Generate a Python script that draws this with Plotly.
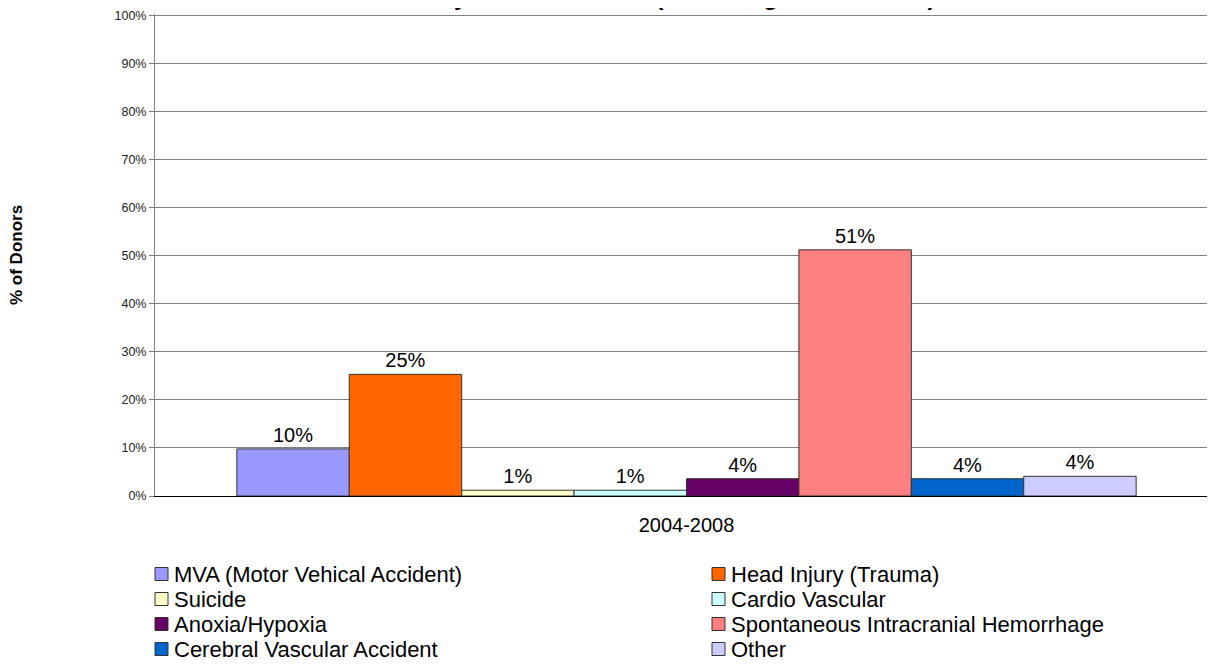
import plotly.graph_objects as go

# cause of death, share of donors 2004-2008
CATEGORY = ['2004-2008']
CAUSES = [
    'MVA (Motor Vehical Accident)',
    'Head Injury (Trauma)',
    'Suicide',
    'Cardio Vascular',
    'Anoxia/Hypoxia',
    'Spontaneous Intracranial Hemorrhage',
    'Cerebral Vascular Accident',
    'Other',
]
SHARES = [9.8, 25.3, 1.2, 1.2, 3.6, 51.2, 3.6, 4.1]
COLORS = ['#9999FF', '#FF6600', '#FFFFCC', '#CCFFFF',
          '#660066', '#FF8080', '#0066CC', '#CCCCFF']
Y_TICKS = list(range(0, 101, 10))

FONT = 'Arial, Liberation Sans, sans-serif'
W, H = 1215, 667
OFF = 8  # page body margin shifts the figure
L, R, T, B = 155 - OFF, 5, 14 - OFF, 179
PW, PH = W - L - R, H - T - B


def px_x(x):  # page x -> paper x
    return (x - OFF - L) / PW


def px_y(y):  # page y -> paper y
    return 1 - (y - OFF - T) / PH


fig = go.Figure()
for name, val, col in zip(CAUSES, SHARES, COLORS):
    fig.add_trace(go.Bar(
        x=CATEGORY, y=[val], name=name, showlegend=False,
        marker=dict(color=col, line=dict(color='#333333', width=1)),
        text=[f'{round(val)}%'], textposition='outside',
        textfont=dict(family=FONT, size=20, color='black'),
        cliponaxis=False,
    ))

fig.update_layout(
    width=W, height=H,
    margin=dict(l=L, r=R, t=T, b=B, autoexpand=False),
    barmode='group', bargap=0.154, bargroupgap=0,
    paper_bgcolor='white', plot_bgcolor='white',
    font=dict(family=FONT, size=12, color='black'),
)

fig.update_yaxes(range=[0, 100.25], tickvals=Y_TICKS,
                 ticktext=[f'{v}%' for v in Y_TICKS],
                 tickfont=dict(family=FONT, size=12.5, color='#222222'),
                 ticklabeloverflow='allow',
                 showgrid=True, gridcolor='#808080', gridwidth=1,
                 showline=True, linecolor='#808080', linewidth=1,
                 ticks='outside', ticklen=5, tickcolor='#808080',
                 zeroline=False, fixedrange=True)
fig.update_xaxes(showline=True, linecolor='black', linewidth=1,
                 tickfont=dict(family=FONT, size=20, color='black'),
                 ticks='', ticklabelstandoff=11, fixedrange=True)

# legend in two columns, Excel style (tighter rows than plotly's legend)
LEG_X = [155, 712]
LEG_Y0, LEG_DY, SQ = 574, 25, 13
for i, (name, col) in enumerate(zip(CAUSES, COLORS)):
    x0 = LEG_X[i % 2]
    yc = LEG_Y0 + (i // 2) * LEG_DY
    fig.add_shape(type='rect', xref='paper', yref='paper',
                  x0=px_x(x0), x1=px_x(x0 + SQ),
                  y0=px_y(yc + SQ / 2), y1=px_y(yc - SQ / 2),
                  fillcolor=col, line=dict(color='#333333', width=1))
    fig.add_annotation(text=name, xref='paper', yref='paper',
                       x=px_x(x0 + SQ + 4), y=px_y(yc),
                       xanchor='left', yanchor='middle', showarrow=False,
                       font=dict(family=FONT, size=22, color='black'))

# axis title
fig.add_annotation(text='<b>% of Donors</b>', textangle=-90,
                   xref='paper', yref='paper',
                   x=px_x(16), y=px_y(255), xanchor='center', yanchor='middle',
                   showarrow=False, font=dict(family=FONT, size=17, color='black'))

# chart title, cropped off at the top of the frame
fig.add_annotation(text='<b>Deceased Donors by Cause of Death (Excluding DCD Donors)</b>',
                   xref='paper', yref='paper',
                   x=px_x(228), y=px_y(12),
                   xanchor='left', yanchor='bottom', showarrow=False,
                   font=dict(family=FONT, size=24, color='black'))

fig.write_html('out.html')
